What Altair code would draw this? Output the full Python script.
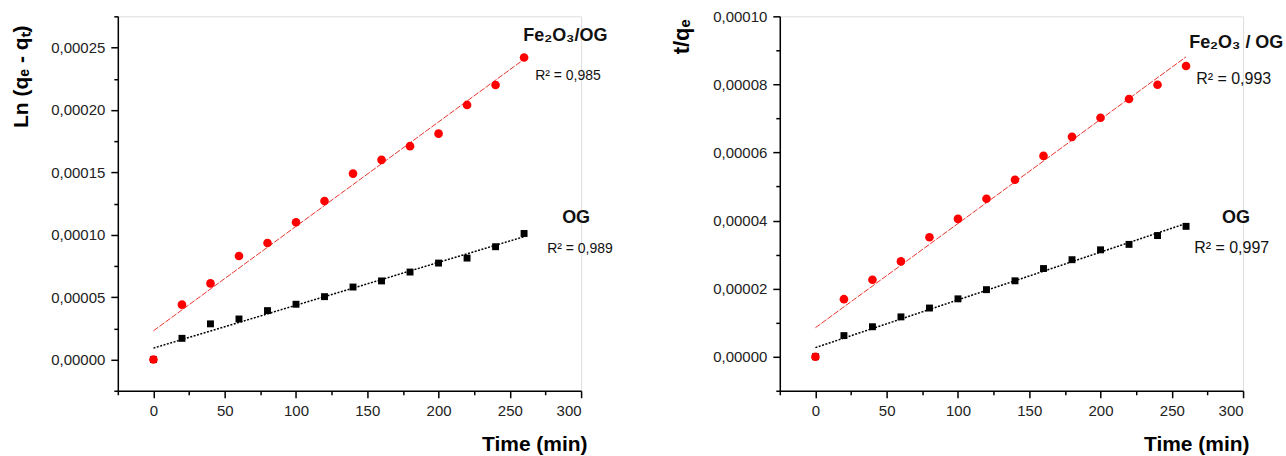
import altair as alt
import pandas as pd

# Contact time (min)
time = [0, 20, 40, 60, 80, 100, 120, 140, 160, 180, 200, 220, 240, 260]

# Pseudo-first-order plot: Ln(qe - qt)
ln_fe2o3_og = [0, 0.000044, 0.000061, 0.000083, 0.0000934, 0.00011, 0.000127,
               0.000149, 0.00016, 0.000171, 0.000181, 0.000204, 0.00022, 0.000242]
ln_og = [0, 0.000017, 0.0000286, 0.0000325, 0.0000392, 0.0000443, 0.0000504,
         0.0000581, 0.000063, 0.0000701, 0.0000773, 0.0000813, 0.0000904, 0.000101]

# Pseudo-second-order plot: t/qe
tq_fe2o3_og = [0, 0.0000169, 0.0000226, 0.000028, 0.0000351, 0.0000405, 0.0000464,
               0.000052, 0.000059, 0.0000646, 0.0000702, 0.0000757, 0.0000799, 0.0000854]
tq_og = [0, 0.0000062, 0.0000088, 0.0000117, 0.0000143, 0.000017, 0.0000197,
         0.0000223, 0.0000259, 0.0000285, 0.0000314, 0.000033, 0.0000356, 0.0000383]

r2_labels_left = ["R² = 0,985", "R² = 0,989"]
r2_labels_right = ["R² = 0,993", "R² = 0,997"]

FONT = "Liberation Sans"
RED = "#ff0000"
BLACK = "#000000"

x_ticks = [-25 + 25 * i for i in range(14)]


def frame(fe, og):
    return pd.DataFrame({
        "t": time * 2,
        "v": og + fe,
        "series": ["OG"] * len(time) + ["Fe2O3/OG"] * len(time),
    })


def x_axis():
    minor = "datum.value % 50 != 0"
    return alt.Axis(
        values=x_ticks, grid=False, domainColor=BLACK, domainWidth=1.5,
        tickColor=BLACK, tickWidth=1.5,
        tickSize={"condition": {"test": minor, "value": 4}, "value": 7},
        labelExpr=f"{minor} ? '' : format(datum.value, 'd')",
        labelFont=FONT, labelFontSize=15, labelColor="#222", labelPadding=6,
        title="Time (min)", titleFont=FONT, titleFontSize=21, titleFontWeight="bold",
        titleColor=BLACK, titleAnchor="end", titleAlign="right",
        titleBaseline="alphabetic", titleX=470, titleY=60,
    )


def y_axis(ticks, major, title, title_size, tx, ty):
    minor = f"abs(datum.value / {major} - round(datum.value / {major})) > 0.01"
    return alt.Axis(
        values=ticks, grid=False, domainColor=BLACK, domainWidth=1.5,
        tickColor=BLACK, tickWidth=1.5,
        tickSize={"condition": {"test": minor, "value": 4}, "value": 7},
        labelExpr=f"{minor} ? '' : replace(format(datum.value, '.5f'), '.', ',')",
        labelFont=FONT, labelFontSize=15, labelColor="#222", labelPadding=6,
        title=title, titleFont=FONT, titleFontSize=title_size, titleFontWeight="bold",
        titleColor=BLACK, titleAngle=270, titleAlign="center",
        titleBaseline="alphabetic", titleX=tx, titleY=ty,
    )


def label(text, x, y, size, bold=False):
    return alt.Chart(alt.Data(values=[{}])).mark_text(
        text=text, font=FONT, fontSize=size, fontWeight="bold" if bold else "normal",
        align="left", baseline="alphabetic", color="#111",
    ).encode(x=alt.value(x), y=alt.value(y))


def frame_box(x0, x1, y0, y1):
    # transparent box that fixes the page extent around the plot areas
    return alt.Chart(alt.Data(values=[{}])).mark_rect(opacity=0).encode(
        x=alt.value(x0), x2=alt.value(x1), y=alt.value(y0), y2=alt.value(y1))


def panel(df, y_dom, y_ticks, y_major, y_title, title_size, tx, ty, fe_name, r2, xs, box):
    xenc = alt.X("t:Q", scale=alt.Scale(domain=[-25, 300], nice=False, zero=False),
                 axis=x_axis())
    yenc = alt.Y("v:Q", scale=alt.Scale(domain=y_dom, nice=False, zero=False),
                 axis=y_axis(y_ticks, y_major, y_title, title_size, tx, ty))
    base = alt.Chart(df)
    red_fit = base.transform_filter("datum.series == 'Fe2O3/OG'").transform_regression(
        "t", "v").mark_line(color="#e8342c", strokeWidth=1, strokeDash=[6, 1.5]).encode(
        x=xenc, y=yenc)
    black_fit = base.transform_filter("datum.series == 'OG'").transform_regression(
        "t", "v").mark_line(color=BLACK, strokeWidth=1.5, strokeDash=[2, 1.5]).encode(
        x=xenc, y=yenc)
    og_pts = base.transform_filter("datum.series == 'OG'").mark_point(
        shape="square", filled=True, size=48, color=BLACK, opacity=1).encode(x=xenc, y=yenc)
    fe_pts = base.transform_filter("datum.series == 'Fe2O3/OG'").mark_point(
        shape="circle", filled=True, size=75, color=RED, opacity=1).encode(x=xenc, y=yenc)
    texts = [
        label(fe_name, xs[0], xs[6], 18, True),
        label(r2[0], xs[1], xs[4], xs[5]),
        label("OG", xs[2], 207, 18, True),
        label(r2[1], xs[3], 237, xs[5]),
    ]
    return alt.layer(frame_box(*box), red_fit, black_fit, og_pts, fe_pts, *texts).properties(
        width=464, height=375)


left_ticks = [round(-0.000025 + 0.000025 * i, 7) for i in range(13)]
right_ticks = [round(-0.00001 + 0.00001 * i, 7) for i in range(12)]

left = panel(frame(ln_fe2o3_og, ln_og), [-0.000025, 0.000275], left_ticks, 0.00005,
             "Ln (qₑ - qₜ)", 21, -90, 60, "Fe₂O₃/OG", r2_labels_left,
             [406, 418, 445, 430, 64, 14, 25], (-117, 0, -15, 0))
right = panel(frame(tq_fe2o3_og, tq_og), [-0.00001, 0.0001], right_ticks, 0.00002,
              "t/qₑ", 22, -91, 20, "Fe₂O₃ / OG", r2_labels_right,
              [410, 417, 443, 415, 68, 16, 32], (0, 506, 0, 441))

chart = alt.hconcat(
    left, right, spacing=199, bounds="flush", padding=0,
).configure_view(stroke=None).configure(background="white")

chart.save("out.html", embed_options={"renderer": "svg", "actions": False})
